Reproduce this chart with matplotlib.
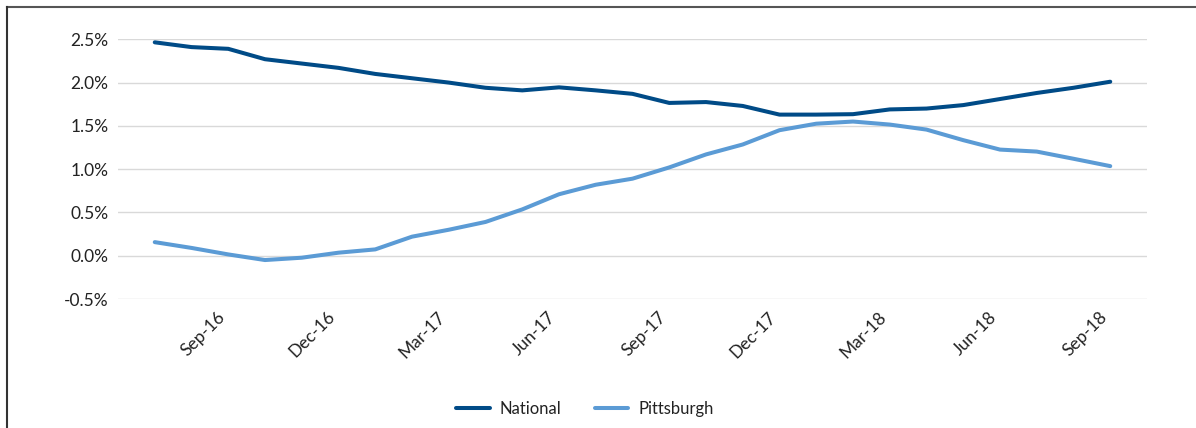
import numpy as np
import matplotlib
matplotlib.use('Agg')
import matplotlib.pyplot as plt
from matplotlib.lines import Line2D

plt.rcParams['font.family'] = ['Lato', 'DejaVu Sans']

months = ['Jul-16', 'Aug-16', 'Sep-16', 'Oct-16', 'Nov-16', 'Dec-16', 'Jan-17', 'Feb-17', 'Mar-17',
          'Apr-17', 'May-17', 'Jun-17', 'Jul-17', 'Aug-17', 'Sep-17', 'Oct-17', 'Nov-17', 'Dec-17',
          'Jan-18', 'Feb-18', 'Mar-18', 'Apr-18', 'May-18', 'Jun-18', 'Jul-18', 'Aug-18', 'Sep-18']
national = [2.465, 2.41, 2.39, 2.27, 2.22, 2.17, 2.10, 2.05, 2.00, 1.94, 1.91, 1.945, 1.91, 1.87,
            1.765, 1.775, 1.73, 1.63, 1.63, 1.635, 1.69, 1.70, 1.74, 1.81, 1.88, 1.94, 2.01]
pittsburgh = [0.157, 0.09, 0.015, -0.05, -0.023, 0.035, 0.073, 0.22, 0.30, 0.39, 0.535, 0.71, 0.82,
              0.89, 1.02, 1.17, 1.285, 1.45, 1.525, 1.55, 1.515, 1.457, 1.335, 1.226, 1.203, 1.12, 1.035]
yticks = [-0.5, 0.0, 0.5, 1.0, 1.5, 2.0, 2.5]

fig = plt.figure(figsize=(11.96, 4.28), dpi=100)
ax = fig.add_axes([118/1196, 1-299/428, (1147-118)/1196, (299-39.3)/428])

x = np.arange(len(months))
ax.plot(x, national, color='#004B87', lw=2.9, label='National', solid_capstyle='round')
ax.plot(x, pittsburgh, color='#5B9BD5', lw=2.9, label='Pittsburgh', solid_capstyle='round')

ax.set_xlim(-1, 27)
ax.set_ylim(-0.5, 2.5)
ax.set_yticks(yticks)
ax.set_yticklabels(['%.1f%%' % v for v in yticks], fontsize=12.5, color='#222222')
tick_idx = x[2::3]
ax.set_xticks(tick_idx)
ax.set_xticklabels([months[i] for i in tick_idx], rotation=45, ha='right', fontsize=12.5, color='#222222')
ax.grid(axis='y', color='#D9D9D9', lw=1)
ax.set_axisbelow(True)
ax.tick_params(length=0, pad=7)
for s in ax.spines.values():
    s.set_visible(False)

fig.legend(loc='center', bbox_to_anchor=(585/1196, 1-409/428), ncol=2, frameon=False,
           fontsize=12, handlelength=2.0, handletextpad=0.6, columnspacing=2.0, labelcolor='#222222')

# frame lines at top and left edge
fig.add_artist(Line2D([7/1196, 1], [1-7/428, 1-7/428], color='#555555', lw=1.5))
fig.add_artist(Line2D([7/1196, 7/1196], [0, 1-7/428], color='#333333', lw=1.5))

fig.savefig('out.png', dpi=100)
